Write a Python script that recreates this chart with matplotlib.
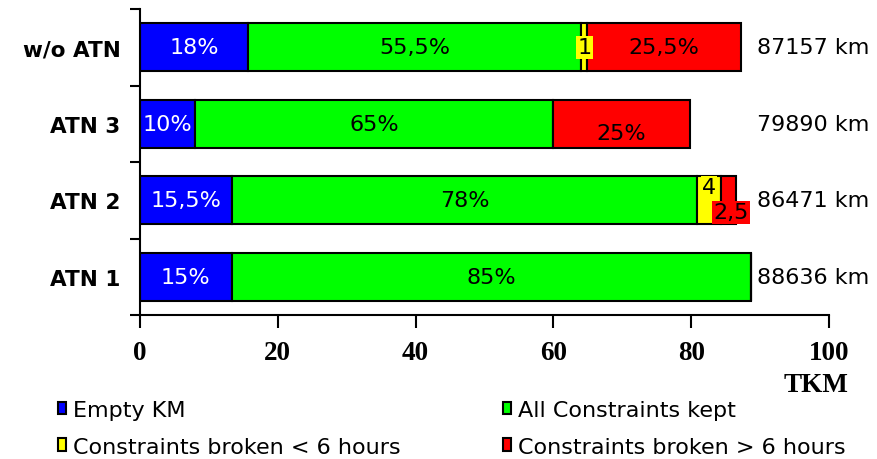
import matplotlib
matplotlib.use('agg')

import matplotlib.pyplot as plt
import matplotlib.ticker as ticker
import matplotlib.patches as mpatches
import numpy as np

# Data (bottom to top)
scenarios = ['ATN 1', 'ATN 2', 'ATN 3', 'w/o ATN']
totals_km = [88636, 86471, 79890, 87157]
pct_empty = [15, 15.5, 10, 18]
pct_kept = [85, 78, 65, 55.5]
pct_short = [0, 4, 0, 1]
pct_long = [0, 2.5, 25, 25.5]

empty_labels = ['15%', '15,5%', '10%', '18%']
kept_labels = ['85%', '78%', '65%', '55,5%']
short_labels = ['', '4', '', '1']
long_labels = ['', '2,5', '25%', '25,5%']

series_names = ['Empty KM', 'All Constraints kept',
                'Constraints broken < 6 hours', 'Constraints broken > 6 hours']
colors = ['#0000ff', '#00ff00', '#ffff00', '#ff0000']
xticks = [0, 20, 40, 60, 80, 100]


def main():
    y = np.arange(len(scenarios))
    tkm = np.array(totals_km) / 1000.
    pcts = [np.array(p) for p in (pct_empty, pct_kept, pct_short, pct_long)]
    widths = [tkm * p / 100. for p in pcts]

    fig = plt.figure(figsize=(8.78, 4.6), dpi=100)
    ax = fig.add_axes([140/878, 1-316/460, 689/878, 306/460])

    left = np.zeros(len(y))
    for w, c, name in zip(widths, colors, series_names):
        ax.barh(y, w, left=left, height=0.625, color=c, edgecolor='black',
                linewidth=1.5, label=name)
        left = left + w

    ends = np.cumsum(widths, axis=0)
    starts = ends - np.array(widths)
    mid = (starts + ends) / 2.

    fs = 16
    for i in range(len(y)):
        ax.text(mid[0][i], y[i], empty_labels[i], ha='center', va='center',
                color='white', fontsize=fs)
        ax.text(mid[1][i], y[i], kept_labels[i], ha='center', va='center',
                color='black', fontsize=fs)
        if pct_long[i] >= 10:
            dy = -0.12 if scenarios[i] == 'ATN 3' else 0
            ax.text(mid[3][i], y[i] + dy, long_labels[i], ha='center',
                    va='center', color='black', fontsize=fs)
        ax.text(89.5, y[i], '%d km' % totals_km[i], ha='left', va='center',
                fontsize=fs, clip_on=False)

    # small segments: labels in coloured boxes
    i = scenarios.index('w/o ATN')
    ax.text(mid[2][i], y[i], short_labels[i], ha='center', va='center',
            fontsize=fs, bbox=dict(facecolor=colors[2], edgecolor='none', pad=1))
    i = scenarios.index('ATN 2')
    ax.text(mid[2][i], y[i] + 0.17, short_labels[i], ha='center', va='center',
            fontsize=fs, bbox=dict(facecolor=colors[2], edgecolor='none', pad=1))
    ax.text(ends[3][i] - 0.7, y[i] - 0.16, long_labels[i], ha='center',
            va='center', fontsize=fs,
            bbox=dict(facecolor=colors[3], edgecolor='none', pad=1))

    ax.set_xlim(0, 100)
    ax.set_ylim(-0.5, 3.5)
    ax.spines['top'].set_visible(False)
    ax.spines['right'].set_visible(False)
    ax.spines['left'].set_linewidth(1.5)
    ax.spines['bottom'].set_linewidth(1.5)

    ax.set_xticks(xticks)
    ax.set_xticklabels([str(t) for t in xticks], family='Liberation Serif',
                       fontweight='bold', fontsize=19.5)
    ax.tick_params('x', direction='out', length=9, width=1.5, pad=9)

    ax.yaxis.set_major_locator(ticker.FixedLocator(y))
    ax.yaxis.set_minor_locator(ticker.FixedLocator(np.arange(-0.5, 4, 1.)))
    ax.set_yticklabels(scenarios, fontweight='bold', fontsize=15.5)
    ax.tick_params('y', which='major', length=0, pad=14)
    ax.tick_params('y', which='minor', length=7, width=1.5)

    fig.text(848/878, 1-385/460, 'TKM', ha='right', va='center',
             family='Liberation Serif', fontweight='bold', fontsize=19.5)

    # legend rows: (blue, green), (yellow, red)
    order = [0, 2, 1, 3]
    handles = [mpatches.Patch(facecolor=colors[k], edgecolor='black',
                              linewidth=1.5) for k in order]
    fig.legend(handles, [series_names[k] for k in order], loc='upper left',
               bbox_to_anchor=(58/878, 1-401/460), ncol=2, frameon=False,
               fontsize=fs, handlelength=0.38, handleheight=0.5,
               handletextpad=0.3, columnspacing=4.6, labelspacing=0.75,
               borderaxespad=0, borderpad=0)

    fig.savefig('out.png', dpi=100)


if __name__ == "__main__":
    main()
